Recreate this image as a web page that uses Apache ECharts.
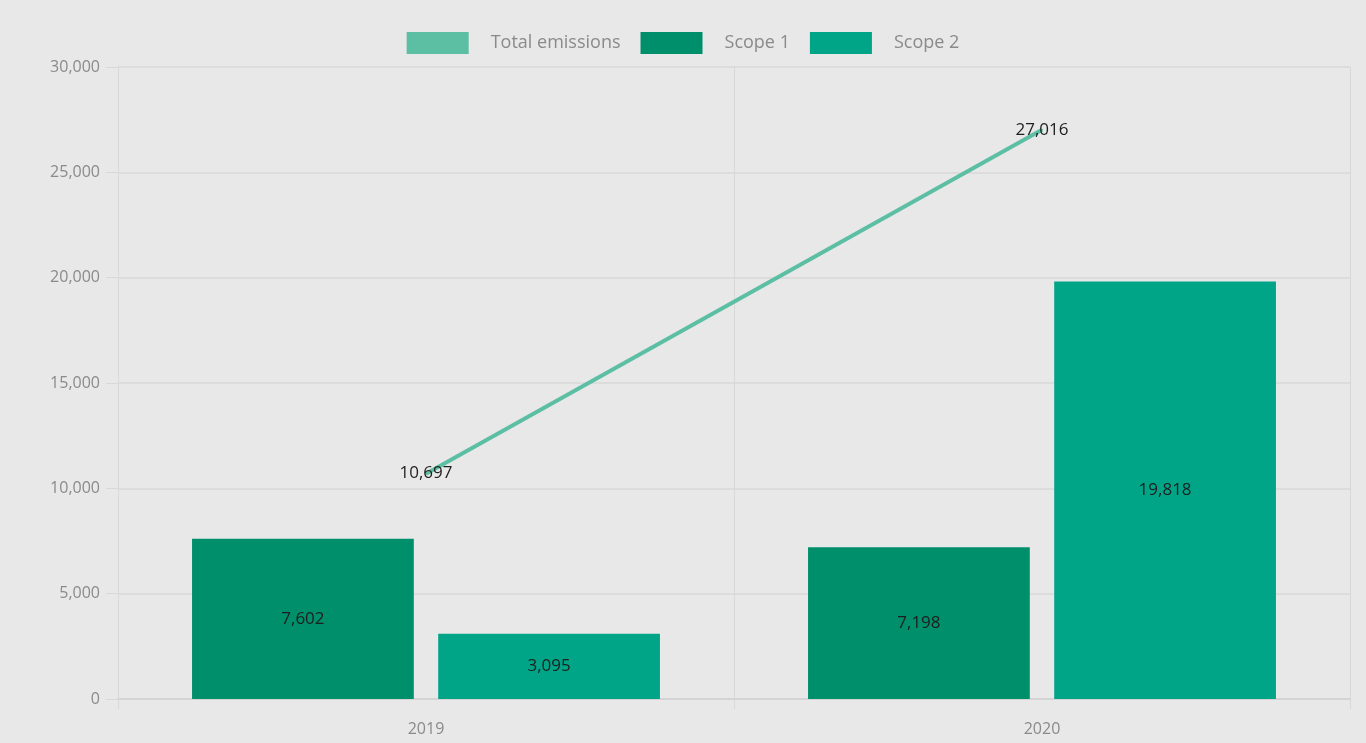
<!DOCTYPE html>
<html>
<head>
<meta charset="utf-8">
<title>Emissions 2019–2020</title>
<script src="https://cdn.jsdelivr.net/npm/echarts@6/dist/echarts.min.js"></script>
<style>
  html, body { margin: 0; padding: 0; background: #e8e8e8; }
  #chart { width: 1366px; height: 743px; }
</style>
</head>
<body>
<div id="chart"></div>
<script>
// Reporting years
const years = ['2019', '2020'];
// Emissions by scope (tCO2e)
const scope1 = [7602, 7198];
const scope2 = [3095, 19818];
const totalEmissions = [10697, 27016];

const fontFamily = '"Open Sans", Lato, sans-serif';
const fmt = v => Number(v).toLocaleString('en-US');

const valueLabel = {
  show: true,
  position: 'inside',
  formatter: p => fmt(p.value),
  color: '#1e1e1e',
  fontSize: 17,
  fontFamily
};

const legendText = w => ({ width: w, color: '#8a8a8a', fontSize: 18, fontFamily, padding: [0, 0, 0, 17] });

const chart = echarts.init(document.getElementById('chart'), null, { renderer: 'canvas' });

chart.setOption({
  backgroundColor: '#e8e8e8',
  animation: false,
  textStyle: { fontFamily },
  legend: {
    top: 27,
    left: 'center',
    itemWidth: 62,
    itemHeight: 22,
    itemGap: 20,
    icon: 'rect',
    data: [
      { name: 'Total emissions', textStyle: legendText(150) },
      { name: 'Scope 1', textStyle: legendText(72) },
      { name: 'Scope 2', textStyle: legendText(72) }
    ]
  },
  grid: { left: 118, right: 16, top: 67, bottom: 44, containLabel: false },
  xAxis: {
    type: 'category',
    data: years,
    boundaryGap: true,
    axisLine: { show: true, lineStyle: { color: '#d4d4d4', width: 2 } },
    axisTick: { show: true, length: 10, lineStyle: { color: '#d8d8d8' } },
    axisLabel: { color: '#8a8a8a', fontSize: 16, margin: 22, fontFamily },
    splitLine: { show: true, lineStyle: { color: '#d8d8d8', width: 1 } }
  },
  yAxis: {
    type: 'value',
    min: 0,
    max: 30000,
    interval: 5000,
    axisLine: { show: false },
    axisTick: { show: true, length: 12, lineStyle: { color: '#d8d8d8' } },
    axisLabel: { color: '#8a8a8a', fontSize: 16, margin: 18, formatter: fmt, fontFamily },
    splitLine: { show: true, lineStyle: { color: '#d8d8d8', width: 1.5 } }
  },
  series: [
    {
      name: 'Total emissions',
      type: 'line',
      data: totalEmissions,
      z: 5,
      symbol: 'circle',
      symbolSize: 2,
      showSymbol: true,
      color: '#5cbfa3',
      itemStyle: { color: '#5cbfa3' },
      lineStyle: { color: '#5cbfa3', width: 4 },
      label: valueLabel
    },
    {
      name: 'Scope 1',
      type: 'bar',
      data: scope1,
      barWidth: '36%',
      barGap: '11%',
      color: '#008f6b',
      itemStyle: { color: '#008f6b' },
      label: valueLabel
    },
    {
      name: 'Scope 2',
      type: 'bar',
      data: scope2,
      barWidth: '36%',
      barGap: '11%',
      color: '#00a588',
      itemStyle: { color: '#00a588' },
      label: valueLabel
    }
  ]
});
</script>
</body>
</html>
